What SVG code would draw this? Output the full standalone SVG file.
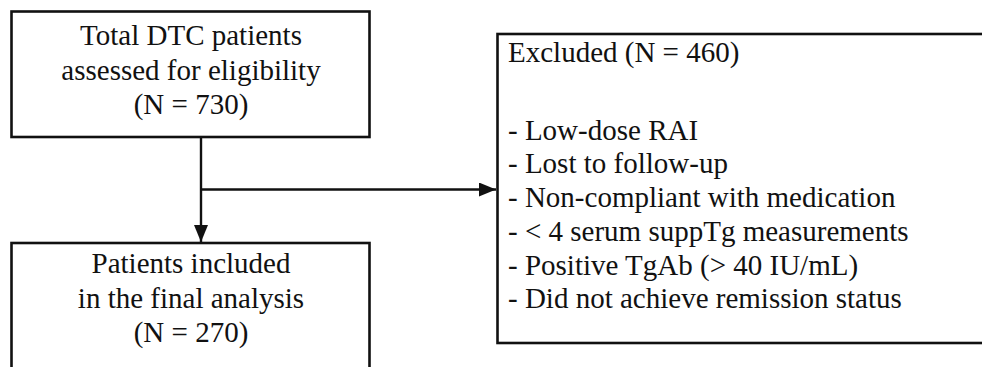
<svg xmlns="http://www.w3.org/2000/svg" width="982" height="367" viewBox="0 0 982 367">
<style>
.box{fill:#fff;stroke:#111;stroke-width:2.6}
.t{font-family:"Liberation Serif","Times New Roman",serif;font-size:29px;fill:#111}
.c{text-anchor:middle}
.ln{fill:none;stroke:#111;stroke-width:2.4}
</style>
<defs>
<marker id="ah" markerUnits="userSpaceOnUse" markerWidth="18" markerHeight="14" refX="17" refY="7" orient="auto">
<path d="M0,0 L17,7 L0,14 Z" fill="#111"/>
</marker>
</defs>
<rect width="982" height="367" fill="#fff"/>
<g id="connectors">
<line class="ln" x1="201" y1="137" x2="201" y2="242" marker-end="url(#ah)"/>
<line class="ln" x1="201" y1="189.5" x2="496" y2="189.5" marker-end="url(#ah)"/>
</g>
<g id="total">
<rect class="box" x="11.5" y="11.5" width="358" height="125.5"/>
<text class="t c" x="191" y="45">Total DTC patients</text>
<text class="t c" x="191" y="80">assessed for eligibility</text>
<text class="t c" x="191" y="114">(N = 730)</text>
</g>
<g id="included">
<rect class="box" x="11.5" y="243" width="358" height="140"/>
<text class="t c" x="191" y="273">Patients included</text>
<text class="t c" x="191" y="308">in the final analysis</text>
<text class="t c" x="191" y="342">(N = 270)</text>
</g>
<g id="excluded">
<rect class="box" x="497.5" y="34" width="600" height="309"/>
<text class="t" x="508" y="62">Excluded (N = 460)</text>
<text class="t" x="508" y="140">- Low-dose RAI</text>
<text class="t" x="508" y="173">- Lost to follow-up</text>
<text class="t" x="508" y="207">- Non-compliant with medication</text>
<text class="t" x="508" y="241">- &lt; 4 serum suppTg measurements</text>
<text class="t" x="508" y="274.5">- Positive TgAb (&gt; 40 IU/mL)</text>
<text class="t" x="508" y="308">- Did not achieve remission status</text>
</g>
</svg>
